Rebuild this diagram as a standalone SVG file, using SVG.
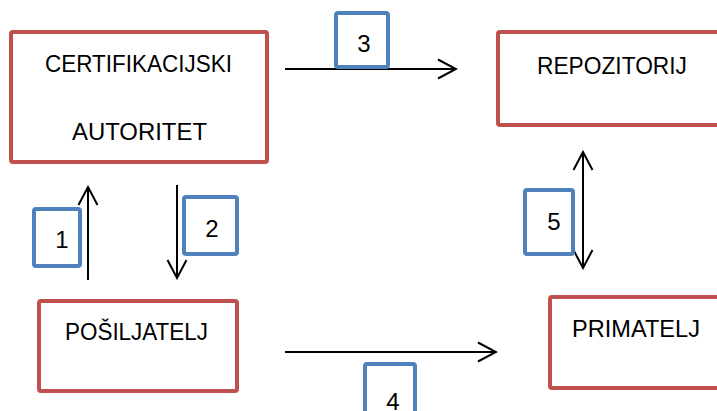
<svg xmlns="http://www.w3.org/2000/svg" width="717" height="411" viewBox="0 0 717 411">
<style>
.node{fill:#fff;stroke:#C0504D;stroke-width:4}
.num{fill:#fff;stroke:#4F81BD;stroke-width:4}
.t{font-family:"Liberation Sans",Arial,sans-serif;font-size:24px;fill:#000}
.c{text-anchor:middle}
.conn{stroke:#000;stroke-width:2;fill:none}
</style>
<defs>
<marker id="ah" viewBox="0 0 22 22" refX="20" refY="11" markerWidth="22" markerHeight="22" markerUnits="userSpaceOnUse" orient="auto-start-reverse">
<path d="M2,1.5 L20,11 L2,20.5" fill="none" stroke="#000" stroke-width="2"/>
</marker>
</defs>
<rect width="717" height="411" fill="#fff"/>
<g id="connectors">
<line class="conn" x1="285" y1="69" x2="456" y2="69" marker-end="url(#ah)"/>
<line class="conn" x1="88" y1="280" x2="88" y2="187" marker-end="url(#ah)"/>
<line class="conn" x1="177" y1="185" x2="177" y2="278" marker-end="url(#ah)"/>
<line class="conn" x1="583" y1="268" x2="583" y2="152" marker-start="url(#ah)" marker-end="url(#ah)"/>
<line class="conn" x1="285" y1="352" x2="496" y2="352" marker-end="url(#ah)"/>
</g>
<g id="ca">
<rect class="node" x="11" y="32" width="256" height="130" rx="2"/>
<text class="t" x="45" y="72" textLength="187" lengthAdjust="spacingAndGlyphs">CERTIFIKACIJSKI</text>
<text class="t" x="72" y="140" textLength="135" lengthAdjust="spacingAndGlyphs">AUTORITET</text>
</g>
<g id="repozitorij">
<rect class="node" x="498" y="32" width="230" height="93" rx="2"/>
<text class="t" x="537" y="74" textLength="150" lengthAdjust="spacingAndGlyphs">REPOZITORIJ</text>
</g>
<g id="posiljatelj">
<rect class="node" x="39" y="301" width="198" height="90" rx="2"/>
<text class="t" x="65" y="340" textLength="143" lengthAdjust="spacingAndGlyphs">POŠILJATELJ</text>
</g>
<g id="primatelj">
<rect class="node" x="550" y="297" width="180" height="91" rx="2"/>
<text class="t" x="572" y="337" textLength="128" lengthAdjust="spacingAndGlyphs">PRIMATELJ</text>
</g>
<g id="label3">
<rect class="num" x="336" y="13" width="52" height="54" rx="2"/>
<text class="t c" x="364" y="52">3</text>
</g>
<g id="label1">
<rect class="num" x="34" y="209" width="46" height="57" rx="2"/>
<text class="t c" x="62" y="248">1</text>
</g>
<g id="label2">
<rect class="num" x="184" y="197" width="53" height="57" rx="2"/>
<text class="t c" x="212" y="237">2</text>
</g>
<g id="label5">
<rect class="num" x="525" y="190" width="48" height="64" rx="2"/>
<text class="t c" x="554" y="230">5</text>
</g>
<g id="label4">
<rect class="num" x="365" y="364" width="50" height="60" rx="2"/>
<text class="t c" x="393" y="410">4</text>
</g>
</svg>
